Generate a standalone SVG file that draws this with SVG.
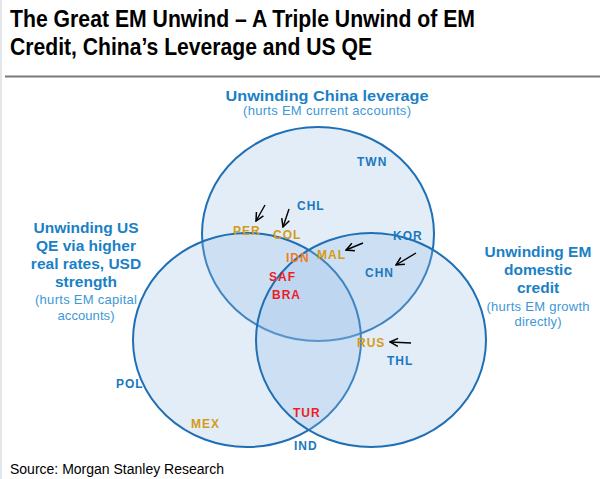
<svg xmlns="http://www.w3.org/2000/svg" width="600" height="479" viewBox="0 0 600 479">
<defs>
<marker id="ah" viewBox="0 0 10 10" refX="9" refY="5" markerWidth="10" markerHeight="10" orient="auto" markerUnits="userSpaceOnUse">
<path d="M1,1 L9,5 L1,9" fill="none" stroke="#000" stroke-width="1.5"/>
</marker>
<style>
.circ{fill:rgb(150,190,230);fill-opacity:0.28;stroke:#1e6fb5;stroke-width:2}
.title{font-family:"Liberation Sans",Arial,sans-serif;font-weight:bold;font-size:23px;fill:#000}
.head{font-family:"Liberation Sans",Arial,sans-serif;font-weight:bold;font-size:15.5px;fill:#1a80c6;text-anchor:middle}
.sub{font-family:"Liberation Sans",Arial,sans-serif;font-size:13px;fill:#3d97d6;text-anchor:middle}
.c{font-family:"Liberation Sans",Arial,sans-serif;font-weight:bold;font-size:12px;letter-spacing:1px}
.blue{fill:#1b78c0}.gold{fill:#d49b17}.red{fill:#ee1c25}.orange{fill:#f07b23}
.arr{stroke:#000;stroke-width:1.4;fill:none;marker-end:url(#ah)}
.src{font-family:"Liberation Sans",Arial,sans-serif;font-size:14px;fill:#000}
</style>
</defs>
<rect x="0" y="0" width="600" height="479" fill="#fff"/>
<line x1="1" y1="0" x2="1" y2="479" stroke="#e3e6ea" stroke-width="2"/>
<g id="title">
<text class="title" x="10" y="27" textLength="465" lengthAdjust="spacingAndGlyphs">The Great EM Unwind – A Triple Unwind of EM</text>
<text class="title" x="10" y="55" textLength="362" lengthAdjust="spacingAndGlyphs">Credit, China’s Leverage and US QE</text>
<line x1="5" y1="76.5" x2="600" y2="76.5" stroke="#7a7a7a" stroke-width="2"/>
</g>
<g id="circle-china">
<ellipse class="circ" cx="318" cy="234" rx="116" ry="107"/>
</g>
<g id="circle-us">
<ellipse class="circ" cx="247" cy="340" rx="114" ry="107"/>
</g>
<g id="circle-em">
<ellipse class="circ" cx="371" cy="340" rx="115" ry="107"/>
</g>
<g id="label-china">
<text class="head" x="327" y="101" textLength="203" lengthAdjust="spacingAndGlyphs">Unwinding China leverage</text>
<text class="sub" x="327" y="115" textLength="168">(hurts EM current accounts)</text>
</g>
<g id="label-us">
<text class="head" x="86" y="233">Unwinding US</text>
<text class="head" x="86" y="251">QE via higher</text>
<text class="head" x="86" y="269">real rates, USD</text>
<text class="head" x="86" y="287">strength</text>
<text class="sub" x="86" y="304" textLength="102">(hurts EM capital</text>
<text class="sub" x="86" y="320" textLength="57">accounts)</text>
</g>
<g id="label-em">
<text class="head" x="538" y="257">Unwinding EM</text>
<text class="head" x="538" y="275">domestic</text>
<text class="head" x="538" y="293">credit</text>
<text class="sub" x="538" y="311" textLength="103">(hurts EM growth</text>
<text class="sub" x="538" y="326" textLength="47">directly)</text>
</g>
<g id="countries">
<text id="TWN" class="c blue" x="357" y="166">TWN</text>
<text id="CHL" class="c blue" x="297" y="210">CHL</text>
<text id="PER" class="c gold" x="233" y="235">PER</text>
<text id="COL" class="c gold" x="273" y="239">COL</text>
<text id="KOR" class="c blue" x="393" y="240">KOR</text>
<text id="IDN" class="c orange" x="286" y="262">IDN</text>
<text id="MAL" class="c gold" x="317" y="259">MAL</text>
<text id="SAF" class="c red" x="269" y="281">SAF</text>
<text id="BRA" class="c red" x="272" y="299">BRA</text>
<text id="CHN" class="c blue" x="365" y="277">CHN</text>
<text id="RUS" class="c gold" x="357" y="347">RUS</text>
<text id="THL" class="c blue" x="387" y="365">THL</text>
<text id="TUR" class="c red" x="293" y="417">TUR</text>
<text id="MEX" class="c gold" x="191" y="428">MEX</text>
<text id="IND" class="c blue" x="294" y="450">IND</text>
<text id="POL" class="c blue" x="116" y="388">POL</text>
</g>
<g id="connectors">
<line class="arr" x1="265" y1="205" x2="256" y2="221"/>
<line class="arr" x1="289" y1="209" x2="283" y2="227"/>
<line class="arr" x1="363" y1="243" x2="346" y2="250"/>
<line class="arr" x1="416" y1="253" x2="396" y2="265"/>
<line class="arr" x1="411" y1="343" x2="390" y2="342"/>
</g>
<text class="src" x="10" y="474">Source: Morgan Stanley Research</text>
</svg>
